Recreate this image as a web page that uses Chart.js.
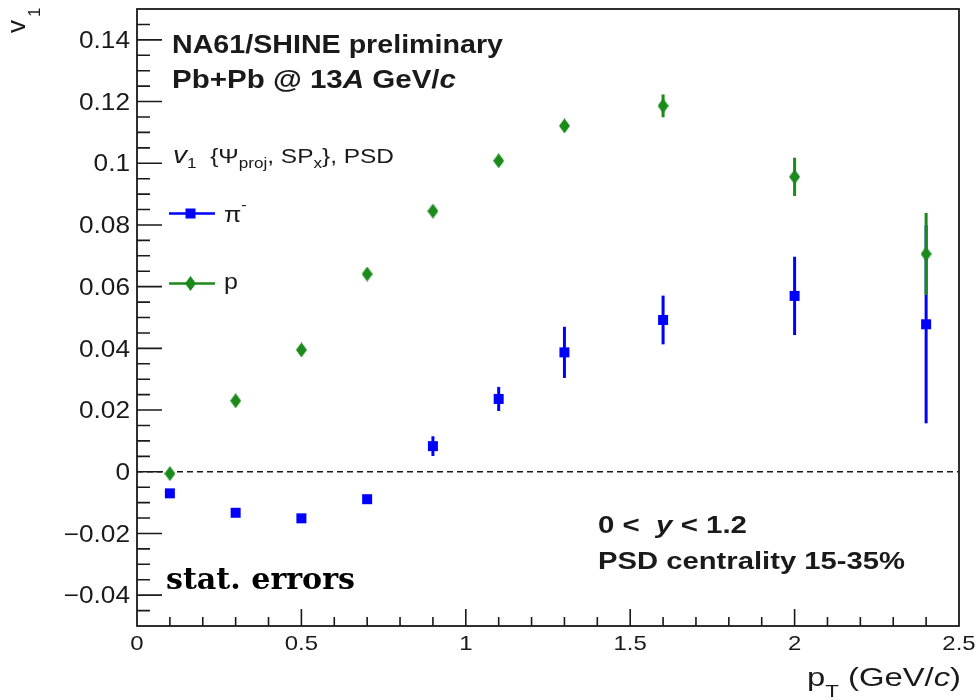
<!DOCTYPE html>
<html>
<head>
<meta charset="utf-8">
<script src="https://cdn.jsdelivr.net/npm/chart.js@4"></script>
<style>
  html, body { margin: 0; padding: 0; background: #fff; }
  canvas { display: block; }
</style>
</head>
<body>
<canvas id="v1-pt" width="976" height="700"></canvas>
<script>
// v1 vs pT, NA61/SHINE Pb+Pb @ 13A GeV/c
const ptBins = [0.1, 0.3, 0.5, 0.7, 0.9, 1.1, 1.3, 1.6, 2.0, 2.4]

const pionV1 = [-0.0070, -0.0133, -0.0151, -0.0089, 0.0083, 0.0236, 0.0387, 0.0492, 0.0570, 0.0478]
const pionErr = [0.0010, 0.0010, 0.0010, 0.0010, 0.0032, 0.0039, 0.0083, 0.0079, 0.0127, 0.0321]

const protonV1 = [-0.0006, 0.0230, 0.0395, 0.0641, 0.0845, 0.1008, 0.1121, 0.1186, 0.0956, 0.0706]
const protonErr = [0.0010, 0.0010, 0.0010, 0.0010, 0.0010, 0.0010, 0.0012, 0.0037, 0.0062, 0.0133]

const xTicks = [0, 0.5, 1, 1.5, 2, 2.5]
const yTicks = [-0.04, -0.02, 0, 0.02, 0.04, 0.06, 0.08, 0.1, 0.12, 0.14]

const BLUE = '#0000ff'
const GREEN = '#1a8a1a'
const INK = '#1a1a1a'
const SANS = '"Liberation Sans", Arial, sans-serif'
const SX = 1.14 // the ROOT picture is a bit wider than tall

// marker 33-ish diamond, taller than wide
const diamond = document.createElement('canvas')
diamond.width = 11
diamond.height = 15
{
  const d = diamond.getContext('2d')
  d.fillStyle = GREEN
  d.beginPath()
  d.moveTo(5.5, 0)
  d.lineTo(11, 7.5)
  d.lineTo(5.5, 15)
  d.lineTo(0, 7.5)
  d.closePath()
  d.fill()
}

const toPoints = (ys) => ptBins.map((x, i) => ({ x, y: ys[i] }))

// draw text as a run of pieces [text, font, dy], stretched to a width
function drawRuns(ctx, x, y, parts, width) {
  ctx.save()
  let natural = 0
  parts.forEach((p) => {
    ctx.font = p[1]
    natural += ctx.measureText(p[0]).width
  })
  const sx = width ? width / natural : SX
  ctx.translate(x, y)
  ctx.scale(sx, 1)
  let cx = 0
  parts.forEach((p) => {
    ctx.font = p[1]
    ctx.fillText(p[0], cx, p[2] || 0)
    cx += ctx.measureText(p[0]).width
  })
  ctx.restore()
}

function fmt(v) {
  const s = String(Math.round(v * 1000) / 1000)
  return s.replace('-', '\u2212')
}

const rootFrame = {
  id: 'rootFrame',
  beforeDatasetsDraw(chart) {
    const { ctx, chartArea: a, scales: { x, y } } = chart
    ctx.save()

    // dashed zero line
    const y0 = y.getPixelForValue(0)
    ctx.strokeStyle = INK
    ctx.lineWidth = 1.5
    ctx.setLineDash([6, 4])
    ctx.beginPath()
    ctx.moveTo(a.left, y0)
    ctx.lineTo(a.right, y0)
    ctx.stroke()
    ctx.setLineDash([])

    // error bars
    ctx.lineWidth = 3
    ;[[pionV1, pionErr, BLUE], [protonV1, protonErr, GREEN]].forEach(([vals, errs, col]) => {
      ctx.strokeStyle = col
      ptBins.forEach((pt, i) => {
        const px = x.getPixelForValue(pt)
        ctx.beginPath()
        ctx.moveTo(px, y.getPixelForValue(vals[i] - errs[i]))
        ctx.lineTo(px, y.getPixelForValue(vals[i] + errs[i]))
        ctx.stroke()
      })
    })
    ctx.restore()
  },
  afterDatasetsDraw(chart) {
    const { ctx, chartArea: a, scales: { x, y } } = chart
    ctx.save()
    ctx.strokeStyle = INK
    ctx.fillStyle = INK
    ctx.lineWidth = 1.8

    // frame
    ctx.strokeRect(a.left, a.top, a.right - a.left, a.bottom - a.top)

    // inner ticks, y: major 0.02 minor 0.005
    ctx.lineWidth = 1.6
    ctx.beginPath()
    for (let k = -10; k <= 30; k++) {
      const v = k * 0.005
      const py = y.getPixelForValue(v)
      if (py < a.top + 1 || py > a.bottom - 1) continue
      const len = k % 4 === 0 ? 25 : 13
      ctx.moveTo(a.left, py)
      ctx.lineTo(a.left + len, py)
    }
    // x: major 0.5 minor 0.1
    for (let k = 1; k < 25; k++) {
      const px = x.getPixelForValue(k * 0.1)
      const len = k % 5 === 0 ? 17 : 9
      ctx.moveTo(px, a.bottom)
      ctx.lineTo(px, a.bottom - len)
    }
    ctx.stroke()

    // tick labels
    ctx.textBaseline = 'alphabetic'
    yTicks.forEach((v) => {
      const py = y.getPixelForValue(v)
      ctx.save()
      ctx.translate(a.left - 7, py + 8.2)
      ctx.scale(SX, 1)
      ctx.font = `23px ${SANS}`
      ctx.textAlign = 'right'
      ctx.fillText(fmt(v), 0, 0)
      ctx.restore()
    })
    xTicks.forEach((v) => {
      const px = x.getPixelForValue(v)
      ctx.save()
      ctx.translate(px, 650)
      ctx.scale(SX, 1)
      ctx.font = `21px ${SANS}`
      ctx.textAlign = 'center'
      ctx.fillText(fmt(v), 0, 0)
      ctx.restore()
    })

    // axis titles
    drawRuns(ctx, 807, 686, [
      ['p', `25px ${SANS}`],
      ['T', `17px ${SANS}`, 11],
      [' (GeV/', `25px ${SANS}`],
      ['c', `italic 25px ${SANS}`],
      [')', `25px ${SANS}`]
    ], 154)

    ctx.save()
    ctx.translate(25, 33)
    ctx.rotate(-Math.PI / 2)
    ctx.font = `26px ${SANS}`
    ctx.fillText('v', 0, 0)
    ctx.font = `17px ${SANS}`
    ctx.fillText('1', 16, 15)
    ctx.restore()

    // labels
    const B = `bold 25px ${SANS}`
    const BI = `bold italic 25px ${SANS}`
    drawRuns(ctx, 172, 53, [['NA61/SHINE preliminary', B]], 331)
    drawRuns(ctx, 172, 88, [['Pb+Pb @ 13', B], ['A', BI], [' GeV/', B], ['c', BI]], 284)

    const N = `20px ${SANS}`
    const S = `14px ${SANS}`
    drawRuns(ctx, 173, 163, [
      ['v', `italic 23px ${SANS}`],
      ['1', S, 5],
      ['  {\u03A8', N],
      ['proj', S, 5],
      [', SP', N],
      ['x', S, 5],
      ['}, PSD', N]
    ], 221)

    const B2 = `bold 23px ${SANS}`
    drawRuns(ctx, 598, 533, [['0 <  ', B2], ['y', `bold italic 23px ${SANS}`], [' < 1.2', B2]], 149)
    drawRuns(ctx, 598, 569, [['PSD centrality 15-35%', B2]], 307)

    ctx.fillStyle = '#000'
    drawRuns(ctx, 166, 589, [['stat. errors', `bold 30px "DejaVu Serif", serif`]], 189)

    // legend
    ctx.lineWidth = 2.6
    ctx.strokeStyle = BLUE
    ctx.beginPath()
    ctx.moveTo(169, 213.5)
    ctx.lineTo(215, 213.5)
    ctx.stroke()
    ctx.fillStyle = BLUE
    ctx.fillRect(185.5, 208.5, 10, 10)
    ctx.strokeStyle = GREEN
    ctx.beginPath()
    ctx.moveTo(169, 283.5)
    ctx.lineTo(215, 283.5)
    ctx.stroke()
    ctx.drawImage(diamond, 185, 276)

    ctx.fillStyle = INK
    drawRuns(ctx, 224, 222, [['\u03C0', `22px ${SANS}`], ['-', `14px ${SANS}`, -12]])
    drawRuns(ctx, 224, 289, [['p', `22px ${SANS}`]])

    ctx.restore()
  }
}

new Chart(document.getElementById('v1-pt'), {
  type: 'scatter',
  plugins: [rootFrame],
  data: {
    datasets: [
      {
        label: '\u03C0\u207B',
        data: toPoints(pionV1),
        pointStyle: 'rect',
        pointRadius: 7.07,
        backgroundColor: BLUE,
        borderWidth: 0
      },
      {
        label: 'p',
        data: toPoints(protonV1),
        pointStyle: diamond,
        pointRadius: 6,
        backgroundColor: GREEN,
        borderWidth: 0
      }
    ]
  },
  options: {
    responsive: false,
    animation: false,
    events: [],
    layout: { padding: { top: 9, right: 17, left: 0, bottom: 0 } },
    plugins: { legend: { display: false }, tooltip: { enabled: false } },
    scales: {
      x: {
        type: 'linear',
        min: 0,
        max: 2.5,
        ticks: { display: false },
        grid: { display: false },
        border: { display: false },
        afterFit(s) {
          s.height = 74
          s.paddingLeft = 0
          s.paddingRight = 0
        }
      },
      y: {
        type: 'linear',
        min: -0.05,
        max: 0.15,
        ticks: { display: false },
        grid: { display: false },
        border: { display: false },
        afterFit(s) {
          s.width = 137
          s.paddingTop = 0
          s.paddingBottom = 0
        }
      }
    }
  }
})
</script>
</body>
</html>
